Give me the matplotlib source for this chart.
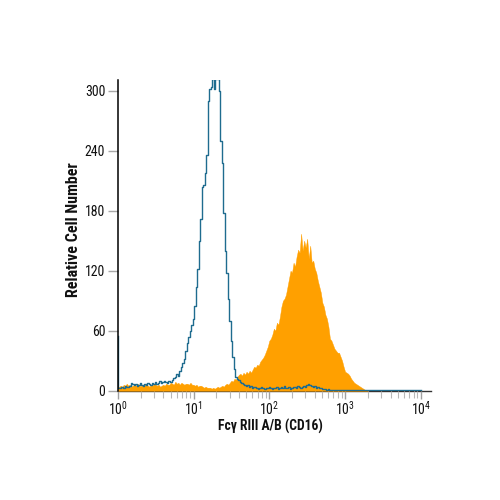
import numpy as np
import matplotlib
matplotlib.use("Agg")
import matplotlib.pyplot as plt
from matplotlib.ticker import LogLocator, NullFormatter

FONT = 'Roboto Condensed'
plt.rcParams['font.family'] = [FONT, 'DejaVu Sans']
plt.rcParams['mathtext.fontset'] = 'custom'
plt.rcParams['mathtext.rm'] = FONT
plt.rcParams['mathtext.default'] = 'regular'

ORANGE = '#FFA000'
BLUE = '#1F6C8F'
BIN = 0.02  # histogram channel width in decades

orange_counts = [3,4,5,4,6,5,7,5,6,4,5,
    6,5,7,6,4,6,5,7,6,5,4,6,5,7,6,5,6,4,5,6,
    5,7,6,6,8,7,6,9,7,8,6,8,7,6,7,
    7,6,8,6,6,5,6,4,5,5,4,3,4,3,3,
    3,2,3,2,3,4,3,4,5,4,
    6,7,6,8,10,9,12,11,14,16,
    17,15,18,16,19,17,20,18,21,24,
    23,26,25,29,31,33,36,40,44,50,
    52,56,62,60,68,66,74,84,90,92,
    96,104,112,120,118,128,124,134,141,138,
    157,140,150,143,152,132,145,128,130,122,
    118,110,104,98,88,84,76,72,64,52,
    50,46,42,40,38,38,34,30,24,19,
    18,17,15,12,10,8,7,6,5,4,
    3,2,1,1,0]

blue_counts = [55,3,3,4,3,5,4,4,5,8,7,
    6,7,5,6,8,6,5,7,6,8,7,6,8,7,9,7,8,10,8,9,
    10,9,8,10,9,11,13,14,17,15,
    20,24,28,32,40,48,54,60,66,72,85,104,122,150,172,204,206,218,236,290,
    302,304,312,302,312,312,300,250,228,178,140,118,92,70,50,34,22,14,12,11,
    9,8,7,6,5,6,4,5,3,4,4,3,2,3,4,3,2,3,3,4,
    3,2,3,3,4,2,3,4,3,5,3,3,4,2,3,4,4,3,5,4,
    3,4,5,4,6,7,6,5,4,5,3,4,3,3,2,2,2,1,2,1,
    1,1,1,1,1,1,1,1,1,1,1,1,1,1,1,1,1,1,1,1,
    1,1,1,1,1,1,1,1,1,1,1,1,1,1,1,1,1,1,1,1,
    1,1,1,1,1,1,1,1,1,1,1,1,1,1,1,1,1,1,1,1,
    1,1,1,1,1,1,1,1,1,1,1,1,1,1,1,1,1,1,1,1,
    1,1,1,1,1,1,1,1,1,1]

y_ticks = [0, 60, 120, 180, 240, 300]
x_ticks = [1, 10, 100, 1000, 10000]
x_labels = ['$10^{0}$', '$10^{1}$', '$10^{2}$', '$10^{3}$', '$10^{4}$']
x_title = 'Fcγ RIII A/B (CD16)'
y_title = 'Relative Cell Number'

fig = plt.figure(figsize=(5, 5), dpi=100)
ax = fig.add_axes([117.7/500, (500-390.7)/500, (431-117.7)/500, (390.7-80)/500])
xmax = 10**((431-117.7)/75.8)
ax.set_xscale('log')
ax.set_xlim(1, xmax)
ax.set_ylim(0, 310.7)

ox = 10**(np.arange(len(orange_counts))*BIN)
n_blue = min(len(blue_counts), 201)
bx = 10**(np.arange(n_blue)*BIN)
ax.fill_between(ox, orange_counts, 0, color=ORANGE, lw=0.3, edgecolor=ORANGE, zorder=2)
ax.step(bx, blue_counts[:n_blue], where='mid', color=BLUE, lw=1.0, zorder=3)

for s in ('top', 'right'):
    ax.spines[s].set_visible(False)
ax.spines['left'].set_color('black')
ax.spines['left'].set_linewidth(1.1)
ax.spines['bottom'].set_color('#333333')
ax.spines['bottom'].set_linewidth(1.0)
ax.spines['left'].set_zorder(5)
ax.spines['bottom'].set_zorder(1)

ax.set_yticks(y_ticks)
ax.set_xticks(x_ticks)
ax.set_xticklabels(x_labels)
ax.xaxis.set_minor_locator(LogLocator(base=10, subs=np.arange(2, 10), numticks=12))
ax.xaxis.set_minor_formatter(NullFormatter())
ax.tick_params(axis='y', length=7, width=1, color='#a8a8a8', labelsize=10, pad=2, labelcolor='#111111')
ax.tick_params(axis='x', which='major', length=6, width=1, color='#a0a0a0', labelsize=10, pad=0.5, labelcolor='#111111')
ax.tick_params(axis='x', which='minor', length=5, width=0.8, color='#b8b8b8')

fig.text(270.5/500, 1-426/500, x_title, ha='center', va='center', fontsize=9.8, fontweight='bold', color='#111111')
fig.text(73.5/500, 1-230/500, y_title, ha='center', va='center', rotation=90, fontsize=11.5, fontweight='bold', color='#111111')

fig.savefig('out.png', dpi=100)
